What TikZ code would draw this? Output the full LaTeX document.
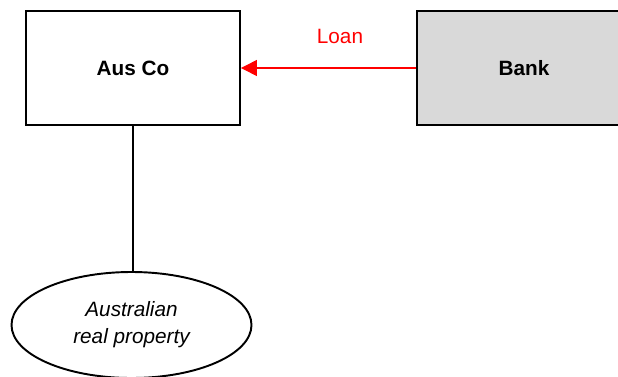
\documentclass[tikz,border=0pt]{standalone}
\usepackage{fontspec}
\setmainfont{Liberation Sans}
\usetikzlibrary{arrows.meta,shapes.geometric}
\definecolor{bankgrey}{RGB}{217,217,217}
\tikzset{
  every node/.style={font=\fontsize{11.8}{15.4}\selectfont},
  entity/.style={draw, line width=1.1pt, inner sep=0pt, font=\fontsize{11.8}{14}\selectfont\bfseries},
  asset/.style={draw, ellipse, line width=1.1pt, inner sep=0pt, align=center, font=\fontsize{11.8}{15.4}\selectfont\itshape},
  loanflow/.style={red, line width=0.8pt, -{Triangle[length=9pt,width=9pt]}},
}
\begin{document}
\begin{tikzpicture}
                \useasboundingbox (0,0) rectangle (12.36,7.52);
                
                % Company box
                \node [entity, minimum width=4.28cm, minimum height=2.28cm] (ausco) at (2.66,6.16) {Aus Co};
                
                % Lender box (runs off the right edge)
                \node [entity, fill=bankgrey, minimum width=4.28cm, minimum height=2.28cm] (bank) at (10.48,6.16) {Bank};
                
                % Property held
                \node [asset, minimum width=4.8cm, minimum height=2.12cm] (property) at (2.63,1.02) {Australian\\real property};
                
                % Loan from bank
                \draw [loanflow] (bank.west) -- (ausco.east);
                \node [red] (loan) at (6.8,6.8) {Loan};
                
                % Ownership line
                \draw [line width=0.8pt] (ausco.south) -- (ausco.south |- property.north);
\end{tikzpicture}
\end{document}
